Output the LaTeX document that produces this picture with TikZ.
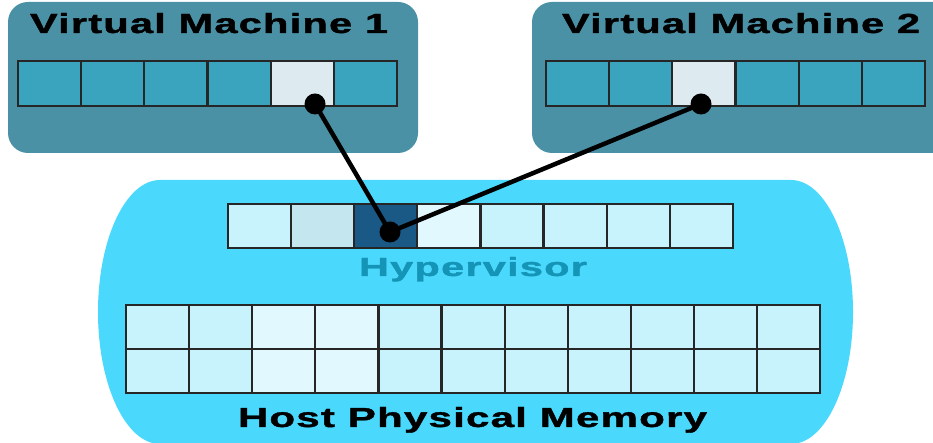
\documentclass[tikz,border=0pt]{standalone}
\usepackage{graphicx}
\usepackage{fontspec}
\newfontfamily\lblfont[LetterSpace=3,FakeBold=1.2]{Liberation Sans}
\newcommand{\fitlabel}[3]{\resizebox{#1}{#2}{\lblfont\bfseries #3}}
\definecolor{vmbox}{HTML}{4B91A6}
\definecolor{vmcell}{HTML}{3AA3BE}
\definecolor{hilite}{HTML}{DDEBF0}
\definecolor{hostbg}{HTML}{4AD9FD}
\definecolor{cellA}{HTML}{C8F2FC}
\definecolor{cellB}{HTML}{C4E6EF}
\definecolor{cellC}{HTML}{1A5886}
\definecolor{cellD}{HTML}{E0F8FE}
\definecolor{hvtext}{HTML}{1494B6}
\tikzset{
  cell/.style={draw=black!85, line width=2.2pt, rectangle, inner sep=0pt,
    minimum width=63.1pt, minimum height=45pt},
  hcell/.style={cell, minimum height=44pt},
  vmpanel/.style={fill=vmbox, rounded corners=20pt},
  dotnode/.style={circle, fill=black, inner sep=0pt, minimum size=21pt},
  link/.style={line width=4.5pt, black},
  lbl/.style={inner sep=0pt, anchor=base}
}
\begin{document}
\begin{tikzpicture}[x=1pt,y=1pt]
\useasboundingbox (0,0) rectangle (933,443);
\begin{scope}
\clip (0,0) rectangle (933,443);
% VM panels
\fill[vmpanel] (8,290) rectangle (418,441);
\fill[vmpanel] (532,290) rectangle (955,441);
% host shape
\fill[hostbg] (160,263) -- (791,263)
  arc[start angle=90, end angle=-90, x radius=62, y radius=132]
  -- (160,-1)
  arc[start angle=270, end angle=90, x radius=62, y radius=132] -- cycle;
\end{scope}
% VM titles
\node[lbl] (t1) at (209,410) {\fitlabel{358pt}{20pt}{Virtual Machine 1}};
\node[lbl] (t2) at (741,410) {\fitlabel{358pt}{20pt}{Virtual Machine 2}};
% VM1 cells
\foreach \i/\c in {1/vmcell,2/vmcell,3/vmcell,4/vmcell,5/hilite,6/vmcell}{
  \node[cell, fill=\c] (vma\i) at ({18+63.17*(\i-0.5)},359.5) {};
}
% VM2 cells
\foreach \i/\c in {1/vmcell,2/vmcell,3/hilite,4/vmcell,5/vmcell,6/vmcell}{
  \node[cell, fill=\c] (vmb\i) at ({546+63.17*(\i-0.5)},359.5) {};
}
% hypervisor cells
\foreach \i/\c in {1/cellA,2/cellB,3/cellC,4/cellD,5/cellA,6/cellA,7/cellA,8/cellA}{
  \node[hcell, fill=\c] (hv\i) at ({228+63.1*(\i-0.5)},217) {};
}
\node[lbl, text=hvtext] (hvl) at (473,167) {\fitlabel{228pt}{19pt}{Hypervisor}};
% host memory grid
\foreach \i/\c in {1/cellA,2/cellA,3/cellD,4/cellD,5/cellA,6/cellA,7/cellA,8/cellA,9/cellA,10/cellA,11/cellA}{
  \node[hcell, fill=\c] (hma\i) at ({126+63.1*(\i-0.5)},116) {};
  \node[hcell, fill=\c] (hmb\i) at ({126+63.1*(\i-0.5)},72) {};
}
\node[lbl] (hml) at (472.5,16) {\fitlabel{469pt}{20pt}{Host Physical Memory}};
% dots and links
\node[dotnode] (d1) at (315,339) {};
\node[dotnode] (d2) at (701,339) {};
\node[dotnode] (dh) at (390,211) {};
\draw[link] (d1.center) -- (dh.center);
\draw[link] (d2.center) -- (dh.center);
\end{tikzpicture}
\end{document}
